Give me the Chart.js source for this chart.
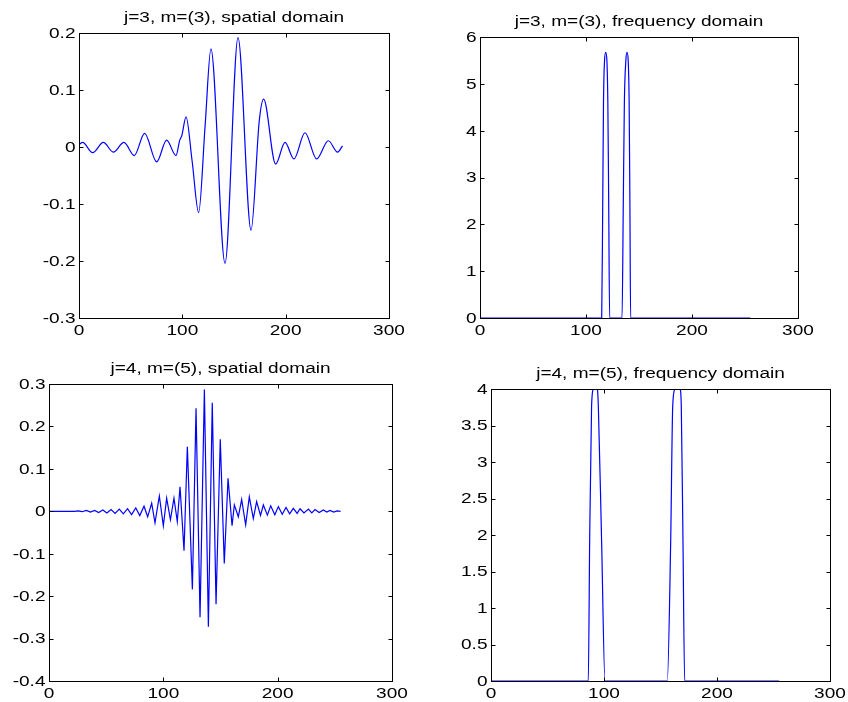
<!DOCTYPE html>
<html lang="en">
<head>
<meta charset="UTF-8">
<title>j=3 / j=4 wavelets</title>
<script src="https://cdn.jsdelivr.net/npm/chart.js"></script>
<style>
  body { margin: 0; background: #fff; }
  #fig { position: relative; width: 848px; height: 702px; }
  canvas { position: absolute; }
</style>
</head>
<body>
<div id="fig">
  <canvas id="c1" width="424" height="340" style="left:0;top:0"></canvas>
  <canvas id="c2" width="424" height="340" style="left:424px;top:0"></canvas>
  <canvas id="c3" width="424" height="362" style="left:0;top:340px"></canvas>
  <canvas id="c4" width="424" height="362" style="left:424px;top:340px"></canvas>
</div>
<script>
// j=3 spatial domain (extremes and shoulders)
const spat3X = [0, 3.5, 13.2, 23.6, 33.2, 43.5, 53.5, 63.5, 75.2, 84.8, 93.9, 97.5, 99.5, 103.6, 109.5,
  115.8, 122, 127.7, 141.3, 153.9, 166.5, 174.5, 178.7, 190.3, 199.4, 208, 218.7, 230, 241.3, 250.3, 255];
const spat3Y = [0.004, 0.008, -0.010, 0.008, -0.009, 0.008, -0.015, 0.024, -0.026, 0.012, -0.015, 0.012, 0.02, 0.053, -0.025,
  -0.115, 0.036, 0.172, -0.204, 0.192, -0.146, 0.047, 0.084, -0.030, 0.008, -0.021, 0.025, -0.021, 0.011, -0.009, 0.002];

// j=3 frequency domain
const freq3X = [0, 114.8, 115.8, 116.5, 117.5, 118.6, 119.7, 120.6, 121.4, 122.3,
  134, 135.2, 136.2, 137.6, 138.7, 139.8, 140.7, 141.4, 142.1, 255];
const freq3Y = [0, 0, 2.5, 4.6, 5.5, 5.67, 5.5, 4.6, 2.5, 0,
  0, 2.5, 4.6, 5.5, 5.67, 5.5, 4.6, 2.5, 0, 0];

// j=4 spatial domain
const spat4X = [0, 22, 25.5, 29, 32.7, 36.2, 39.9, 43.4, 47.1, 50.6, 54.3, 57.8,
  61.5, 65, 68.7, 72.2, 75.9, 79.4, 83.1, 86.3, 89.8, 92.7,
  96.5, 100, 102.9, 106.2, 109.3, 112.2, 114.6, 118.1, 121.0, 125.4,
  128.6, 132.1, 135.9, 139.4, 142.8, 146.1, 149.8, 153.3, 156.6, 160.1,
  162.1, 165.6, 168.5, 172, 175.2, 178.7, 181.6, 185, 187.5, 191,
  193.9, 197.5, 200.6, 204, 207.3, 210.5, 213.7, 217, 219.6, 223,
  226.9, 229.8, 232.7, 236.3, 240, 243, 245.8, 249, 252, 255];
const spat4Y = [0, 0, 0.001, -0.001, 0.002, -0.002, 0.002, -0.003, 0.003, -0.004, 0.004, -0.005,
  0.005, -0.006, 0.006, -0.008, 0.008, -0.010, 0.012, -0.013, 0.019, -0.027,
  0.036, -0.034, 0.031, -0.020, 0.031, -0.024, 0.058, -0.093, 0.152, -0.184,
  0.243, -0.250, 0.287, -0.272, 0.256, -0.219, 0.170, -0.123, 0.078, -0.034,
  0.015, -0.013, 0.028, -0.032, 0.034, -0.017, 0.023, -0.010, 0.015, -0.009,
  0.013, -0.008, 0.011, -0.007, 0.009, -0.006, 0.007, -0.005, 0.006, -0.004,
  0.005, -0.004, 0.004, -0.003, 0.003, -0.002, 0.002, -0.002, 0.001, 0];

// j=4 frequency domain
const freq4X = [0, 86.1, 87.3, 89, 90.5, 92.3, 94.1, 95, 97.9, 100.9,
  156, 159, 160.8, 162.7, 165, 167.4, 168.4, 169.9, 171.4, 255];
const freq4Y = [0, 0, 1.9, 3.76, 4.0, 4.03, 4.0, 3.76, 1.9, 0,
  0, 1.9, 3.76, 4.0, 4.03, 4.0, 3.76, 1.9, 0, 0];

const xTicks = [0, 100, 200, 300];
const yTicks1 = [-0.3, -0.2, -0.1, 0, 0.1, 0.2];
const yTicks2 = [0, 1, 2, 3, 4, 5, 6];
const yTicks3 = [-0.4, -0.3, -0.2, -0.1, 0, 0.1, 0.2, 0.3];
const yTicks4 = [0, 0.5, 1, 1.5, 2, 2.5, 3, 3.5, 4];

const fmt = v => String(Math.round(v * 10) / 10);
const STRETCH = 1.36; // the original picture is stretched sideways

function wideText(ctx, txt, x, y) {
  ctx.save();
  ctx.translate(x, y);
  ctx.scale(STRETCH, 1);
  ctx.fillText(txt, 0, 0);
  ctx.restore();
}

// matlab style box, inward ticks, tick labels and title
const matlabAxes = {
  id: 'matlabAxes',
  afterDraw(chart, args, opts) {
    const { ctx, chartArea: a } = chart;
    const x = chart.scales.x, y = chart.scales.y;
    const l = Math.round(a.left) + 0.5, r = Math.round(a.right) + 0.5;
    const t = Math.round(a.top) + 0.5, b = Math.round(a.bottom) + 0.5;
    ctx.save();
    ctx.strokeStyle = '#000';
    ctx.lineWidth = 1;
    ctx.strokeRect(l, t, r - l, b - t);
    ctx.beginPath();
    x.ticks.forEach(tk => {
      const px = Math.round(x.getPixelForValue(tk.value)) + 0.5;
      ctx.moveTo(px, b); ctx.lineTo(px, b - 4);
      ctx.moveTo(px, t); ctx.lineTo(px, t + 4);
    });
    y.ticks.forEach(tk => {
      const py = Math.round(y.getPixelForValue(tk.value)) + 0.5;
      ctx.moveTo(l, py); ctx.lineTo(l + 4, py);
      ctx.moveTo(r, py); ctx.lineTo(r - 4, py);
    });
    ctx.stroke();

    ctx.fillStyle = '#000';
    ctx.font = '14px "Liberation Sans", Arial, sans-serif';
    ctx.textAlign = 'center';
    ctx.textBaseline = 'alphabetic';
    x.ticks.forEach(tk => {
      wideText(ctx, fmt(tk.value), x.getPixelForValue(tk.value), a.bottom + 17);
    });
    ctx.textAlign = 'right';
    ctx.textBaseline = 'middle';
    y.ticks.forEach(tk => {
      wideText(ctx, fmt(tk.value), a.left - 3.5, y.getPixelForValue(tk.value) + 1);
    });

    ctx.textAlign = 'center';
    ctx.textBaseline = 'alphabetic';
    wideText(ctx, opts.title, (a.left + a.right) / 2, a.top - 11);
    ctx.restore();
  }
};

function makeChart(id, xs, ys, opt) {
  const pts = xs.map((v, i) => ({ x: v, y: ys[i] }));
  return new Chart(document.getElementById(id), {
    type: 'line',
    data: {
      datasets: [{
        data: pts,
        borderColor: '#0000ff',
        borderWidth: 1.2,
        pointRadius: 0,
        fill: false,
        cubicInterpolationMode: opt.curve ? 'monotone' : 'default',
        tension: 0
      }]
    },
    options: {
      responsive: false,
      animation: false,
      events: [],
      layout: { padding: { left: 0, right: opt.right, top: opt.top, bottom: 0 } },
      plugins: {
        legend: { display: false },
        tooltip: { enabled: false },
        title: { display: false },
        matlabAxes: { title: opt.title }
      },
      scales: {
        x: {
          type: 'linear',
          min: 0, max: 300,
          afterBuildTicks: s => { s.ticks = xTicks.map(v => ({ value: v })); },
          ticks: { display: false },
          grid: { display: false },
          border: { display: false },
          afterFit: s => { s.height = opt.xh; }
        },
        y: {
          type: 'linear',
          min: opt.yTicks[0], max: opt.yTicks[opt.yTicks.length - 1],
          afterBuildTicks: s => { s.ticks = opt.yTicks.map(v => ({ value: v })); },
          ticks: { display: false },
          grid: { display: false },
          border: { display: false },
          afterFit: s => { s.width = opt.yw; }
        }
      }
    },
    plugins: [matlabAxes]
  });
}

makeChart('c1', spat3X, spat3Y, { title: 'j=3, m=(3), spatial domain', yTicks: yTicks1,
  curve: true, yw: 79, top: 33, xh: 22, right: 35 });
makeChart('c2', freq3X, freq3Y, { title: 'j=3, m=(3), frequency domain', yTicks: yTicks2,
  curve: true, yw: 56, top: 37, xh: 22, right: 50 });
makeChart('c3', spat4X, spat4Y, { title: 'j=4, m=(5), spatial domain', yTicks: yTicks3,
  curve: false, yw: 49, top: 44, xh: 21, right: 32 });
makeChart('c4', freq4X, freq4Y, { title: 'j=4, m=(5), frequency domain', yTicks: yTicks4,
  curve: true, yw: 67, top: 49, xh: 21, right: 18 });
</script>
</body>
</html>
